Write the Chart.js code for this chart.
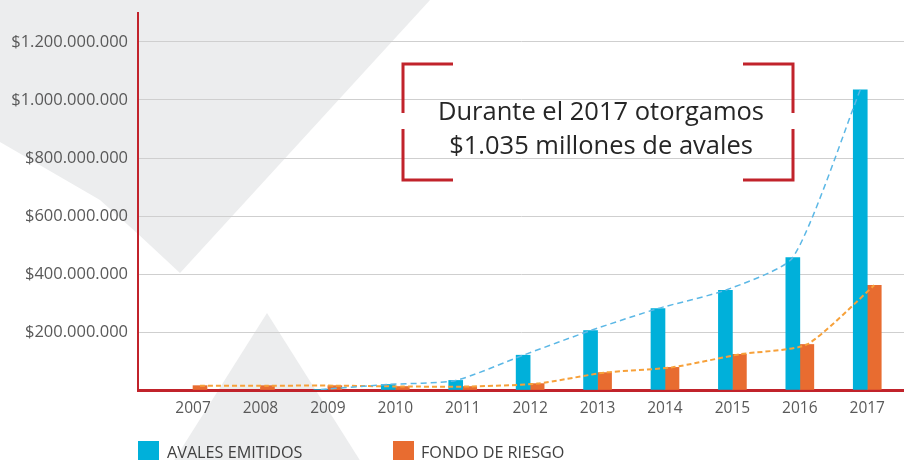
<!DOCTYPE html>
<html lang="es">
<head>
<meta charset="utf-8">
<title>Avales emitidos y fondo de riesgo 2007-2017</title>
<script src="https://cdn.jsdelivr.net/npm/chart.js@4.4.1/dist/chart.umd.min.js"></script>
<style>
  html, body { margin: 0; padding: 0; background: #fff; overflow: hidden; }
  #wrap { position: relative; width: 904px; height: 460px; overflow: hidden; font-family: "Open Sans", Lato, sans-serif; }
  #chart { position: absolute; left: 0; top: 0; }
  .callout { position: absolute; left: 401px; top: 93px; width: 400px; text-align: center;
             font-size: 25.5px; line-height: 34px; color: #262626; }
  .swatch { position: absolute; top: 441px; width: 21px; height: 21px; }
  .lbl { position: absolute; top: 441px; font-size: 16.2px; color: #404040; white-space: nowrap; }
</style>
</head>
<body>
<div id="wrap">
  <canvas id="chart" width="904" height="460"></canvas>
  <div class="callout">Durante el 2017 otorgamos<br>$1.035 millones de avales</div>
  <div class="swatch" style="left:138px;background:#00b0da"></div>
  <div class="lbl" style="left:167px">AVALES EMITIDOS</div>
  <div class="swatch" style="left:393px;background:#e86c30"></div>
  <div class="lbl" style="left:421px">FONDO DE RIESGO</div>
</div>
<script>
// --- data ---
const years = [2007, 2008, 2009, 2010, 2011, 2012, 2013, 2014, 2015, 2016, 2017];
const avalesEmitidos = [null, null, 2e6, 19e6, 33e6, 120e6, 205e6, 281e6, 344e6, 457e6, 1035e6];
const fondoRiesgo = [15e6, 15e6, 15e6, 12e6, 12e6, 22e6, 60e6, 78e6, 123e6, 157e6, 361e6];
const yTickValues = [0, 200e6, 400e6, 600e6, 800e6, 1000e6, 1200e6];

// axis range
const Y_MAX = 1300e6;
const X_MIN = 2006.184, X_MAX = 2017.545;
// half a bar, in years, so the trend lines sit on each bar's centre
const LINE_SHIFT = 0.104;

const BLUE = '#00b0da', ORANGE = '#e86c30', RED = '#c1232b';

function money(v) {
  if (v === 0) return '';
  return '$' + String(v).replace(/\B(?=(\d{3})+(?!\d))/g, '.');
}

// gray background shapes + red corner brackets of the callout
const decor = {
  id: 'decor',
  beforeDraw(chart) {
    const c = chart.ctx;
    c.save();
    c.fillStyle = '#fff';
    c.fillRect(0, 0, chart.width, chart.height);
    c.fillStyle = '#ecedee';
    c.beginPath();
    c.moveTo(0, 0); c.lineTo(430, 0); c.lineTo(180, 273);
    c.lineTo(137, 233); c.lineTo(100, 200); c.lineTo(0, 142);
    c.closePath(); c.fill();
    c.beginPath();
    c.moveTo(267, 313); c.lineTo(366, 470); c.lineTo(168, 470);
    c.closePath(); c.fill();
    c.restore();
  },
  afterDraw(chart) {
    const c = chart.ctx;
    c.save();
    c.strokeStyle = RED;
    c.lineWidth = 3;
    c.lineCap = 'butt';
    c.lineJoin = 'miter';
    c.beginPath();
    c.moveTo(453, 64); c.lineTo(403, 64); c.lineTo(403, 113);
    c.moveTo(403, 129); c.lineTo(403, 180); c.lineTo(453, 180);
    c.moveTo(743, 64); c.lineTo(793, 64); c.lineTo(793, 113);
    c.moveTo(793, 129); c.lineTo(793, 180); c.lineTo(743, 180);
    c.stroke();
    c.restore();
  }
};

Chart.defaults.font.family = '"Open Sans", Lato, sans-serif';
Chart.defaults.color = '#595959';

const ctx = document.getElementById('chart').getContext('2d');
new Chart(ctx, {
  data: {
    datasets: [
      {
        type: 'line',
        label: 'Tendencia avales',
        data: years.map((yr, i) => ({ x: yr - LINE_SHIFT, y: avalesEmitidos[i] })),
        borderColor: '#5cb8e6',
        borderWidth: 1.5,
        borderDash: [6, 4],
        pointRadius: 0,
        tension: 0.2,
        fill: false,
        order: 0
      },
      {
        type: 'line',
        label: 'Tendencia fondo',
        data: years.map((yr, i) => ({ x: yr + LINE_SHIFT, y: fondoRiesgo[i] })),
        borderColor: '#f7a13a',
        borderWidth: 2,
        borderDash: [5, 3],
        pointRadius: 0,
        tension: 0.2,
        fill: false,
        order: 0
      },
      {
        type: 'bar',
        label: 'AVALES EMITIDOS',
        data: years.map((yr, i) => ({ x: yr, y: avalesEmitidos[i] })),
        backgroundColor: BLUE,
        barThickness: 14,
        order: 1
      },
      {
        type: 'bar',
        label: 'FONDO DE RIESGO',
        data: years.map((yr, i) => ({ x: yr, y: fondoRiesgo[i] })),
        backgroundColor: ORANGE,
        barThickness: 14,
        order: 1
      }
    ]
  },
  options: {
    responsive: false,
    animation: false,
    devicePixelRatio: 1,
    layout: { padding: { top: 13, right: 0, bottom: 0, left: 0 } },
    plugins: {
      legend: { display: false },
      tooltip: { enabled: false }
    },
    scales: {
      x: {
        type: 'linear',
        min: X_MIN,
        max: X_MAX,
        offset: false,
        afterBuildTicks: s => { s.ticks = years.map(v => ({ value: v })); },
        afterFit: s => { s.height = 70; s.paddingLeft = 0; s.paddingRight = 0; },
        ticks: { callback: v => String(v), font: { size: 15.5 }, padding: 9, color: '#595959' },
        grid: { display: false, drawTicks: false, offset: false },
        border: { display: true, color: RED, width: 3 }
      },
      y: {
        min: 0,
        max: Y_MAX,
        afterBuildTicks: s => { s.ticks = yTickValues.map(v => ({ value: v })); },
        afterFit: s => { s.width = 138; s.paddingTop = 0; s.paddingBottom = 0; },
        ticks: { callback: v => money(v), font: { size: 16.5 }, padding: 10, color: '#595959' },
        grid: { color: '#cfcfcf', lineWidth: 1, drawTicks: false },
        border: { display: true, color: RED, width: 2 }
      }
    }
  },
  plugins: [decor]
});
</script>
</body>
</html>
